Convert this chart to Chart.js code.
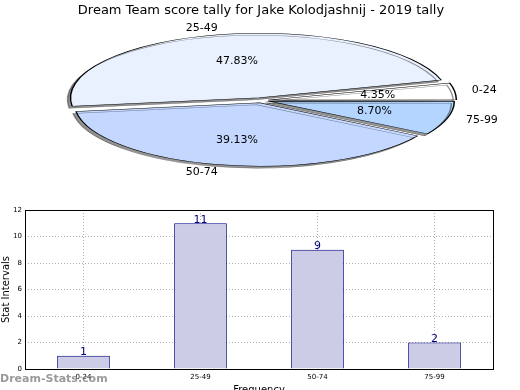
<!DOCTYPE html>
<html>
<head>
<meta charset="utf-8">
<script src="https://cdn.jsdelivr.net/npm/chart.js@4.4.1/dist/chart.umd.min.js"></script>
<style>
  html, body { margin: 0; padding: 0; width: 520px; height: 390px; overflow: hidden; background: #fff; }
  #pie { position: absolute; left: 0; top: 0; }
  #bar { position: absolute; left: 0; top: 190px; }
  #wm { position: absolute; left: 0; top: 372px; font: bold 11px "DejaVu Sans", sans-serif; color: rgba(120,120,120,0.75); }
</style>
</head>
<body>
<canvas id="pie" width="520" height="200"></canvas>
<canvas id="bar" width="520" height="206"></canvas>
<div id="wm">Dream-Stats.com</div>
<script>
// data
const categories = ['0-24', '25-49', '50-74', '75-99'];
const counts = [1, 11, 9, 2];
const pieColors = ['#ffffff', '#e9f0fe', '#c4d7ff', '#b3d5ff'];
const yTicks = [0, 2, 4, 6, 8, 10, 12];
const title = 'Dream Team score tally for Jake Kolodjashnij - 2019 tally';

const total = counts.reduce((a, b) => a + b, 0);
const FONT = '"DejaVu Sans", sans-serif';

// ellipse half-axes for the flattened pie
const RX = 190, RY = 65;

// pie drawn clockwise in chart.js, so reverse to get matplotlib's ccw order
const pieLabels = categories.slice().reverse();
const pieData = counts.slice().reverse();
const pieBg = pieColors.slice().reverse();

// chart.js grows each arc by offset/4 when it is exploded
function drawnRadius(arc) {
  return arc.outerRadius + (arc.options.offset || 0) / 4;
}

const squash = {
  id: 'squash',
  beforeDatasetsDraw(chart) {
    const arc = chart.getDatasetMeta(0).data[0];
    const r = drawnRadius(arc);
    const ctx = chart.ctx;
    ctx.save();
    ctx.translate(arc.x, arc.y);
    ctx.scale(RX / r, RY / r);
    ctx.translate(-arc.x, -arc.y);
    ctx.shadowColor = 'rgba(0,0,0,0.42)';
    ctx.shadowOffsetX = -3;
    ctx.shadowOffsetY = 2;
    ctx.shadowBlur = 0;
  },
  afterDatasetsDraw(chart) {
    const ctx = chart.ctx;
    ctx.restore();
    const meta = chart.getDatasetMeta(0);
    ctx.save();
    ctx.font = '11px ' + FONT;
    ctx.fillStyle = '#000';
    meta.data.forEach((arc, i) => {
      const mid = (arc.startAngle + arc.endAngle) / 2;
      const c = Math.cos(mid), s = Math.sin(mid);
      const pct = (pieData[i] / total * 100).toFixed(2) + '%';
      ctx.textAlign = 'center';
      ctx.textBaseline = 'middle';
      ctx.fillText(pct, arc.x + RX * 0.62 * c, arc.y + RY * 0.62 * s);
      ctx.textAlign = c < 0 ? 'right' : 'left';
      ctx.fillText(pieLabels[i], arc.x + RX * 1.12 * c, arc.y + (RY * 1.1 + 2) * s);
    });
    ctx.restore();
  }
};

new Chart(document.getElementById('pie'), {
  type: 'pie',
  data: {
    labels: pieLabels,
    datasets: [{
      data: pieData,
      backgroundColor: pieBg,
      borderColor: '#000',
      borderWidth: 0.9,
      offset: 18,
      clip: false
    }]
  },
  options: {
    responsive: false,
    animation: false,
    rotation: 90,
    radius: 110,
    layout: { padding: { left: 2, right: 0, top: 0, bottom: 21 } },
    plugins: {
      legend: { display: false },
      tooltip: { enabled: false },
      title: {
        display: true,
        text: title,
        color: '#000',
        font: { family: FONT, size: 13, weight: 'normal' },
        padding: { top: 3, bottom: 3 }
      }
    }
  },
  plugins: [squash]
});

const frame = {
  id: 'frame',
  afterDraw(chart) {
    const { ctx, chartArea: a } = chart;
    ctx.save();
    ctx.strokeStyle = '#000';
    ctx.lineWidth = 1;
    ctx.strokeRect(a.left + 0.5, a.top + 0.5, a.right - a.left, a.bottom - a.top);
    // value labels
    const meta = chart.getDatasetMeta(0);
    ctx.font = '11px ' + FONT;
    ctx.fillStyle = '#000080';
    ctx.textAlign = 'center';
    ctx.textBaseline = 'bottom';
    meta.data.forEach((bar, i) => {
      ctx.fillText(String(counts[i]), bar.x, bar.y + 2);
    });
    ctx.restore();
  }
};

new Chart(document.getElementById('bar'), {
  type: 'bar',
  data: {
    labels: categories,
    datasets: [{
      data: counts,
      backgroundColor: '#cccce6',
      borderColor: '#000080',
      borderWidth: 1,
      barPercentage: 0.45,
      categoryPercentage: 1
    }]
  },
  options: {
    responsive: false,
    animation: false,
    layout: { padding: { left: 0, right: 27, top: 20, bottom: 0 } },
    plugins: { legend: { display: false }, tooltip: { enabled: false } },
    scales: {
      x: {
        grid: { offset: false, color: '#b0b0b0', drawTicks: false },
        border: { display: false, dash: [1, 2] },
        ticks: { color: '#000', font: { family: FONT, size: 7 }, padding: 4 },
        title: { display: true, text: 'Frequency', color: '#000', font: { family: FONT, size: 10 }, padding: { top: 0, bottom: 0 } },
        afterFit(scale) { scale.height = 27; }
      },
      y: {
        min: 0,
        max: 12,
        afterBuildTicks(scale) { scale.ticks = yTicks.map(v => ({ value: v })); },
        grid: { color: '#b0b0b0', drawTicks: false },
        border: { display: false, dash: [1, 2] },
        ticks: { color: '#000', font: { family: FONT, size: 7 }, padding: 3 },
        title: { display: true, text: 'Stat Intervals', color: '#000', font: { family: FONT, size: 10 }, padding: { top: 0, bottom: 0 } },
        afterFit(scale) { scale.width = 25; }
      }
    }
  },
  plugins: [frame]
});
</script>
</body>
</html>
